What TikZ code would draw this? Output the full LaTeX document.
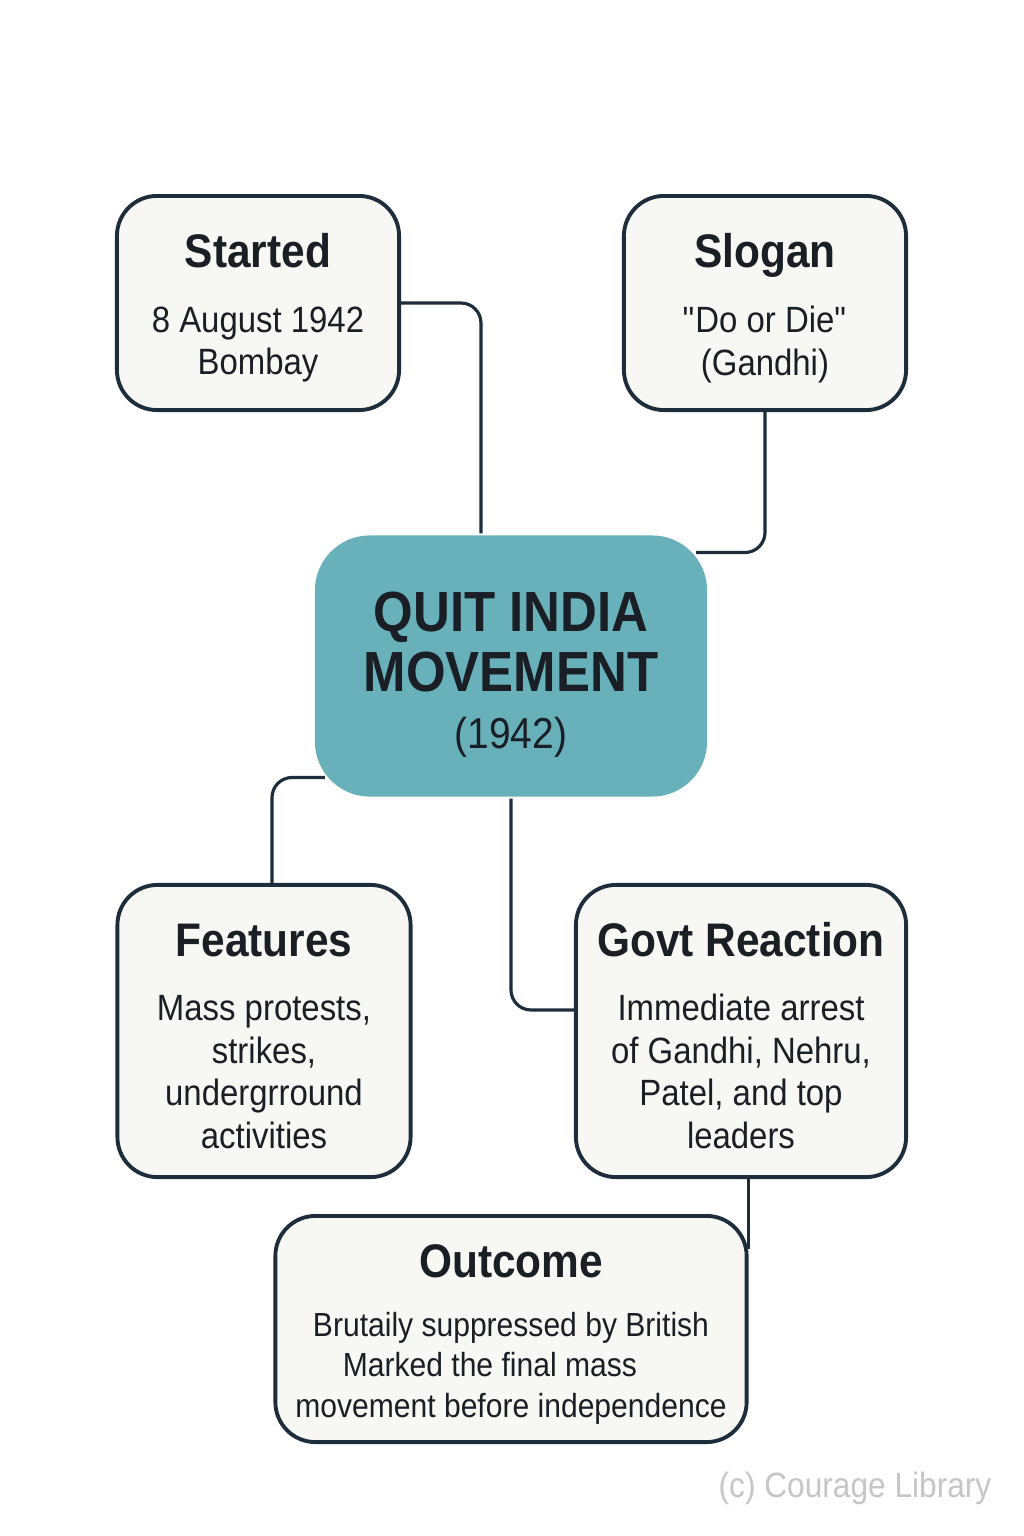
\documentclass[tikz,border=0pt]{standalone}
\usepackage{fontspec}
\setmainfont{Liberation Sans}[FakeStretch=0.9]
\usetikzlibrary{positioning}
\definecolor{navy}{HTML}{1E2D3B}
\definecolor{paper}{HTML}{F7F7F3}
\definecolor{tealbox}{HTML}{68B0BA}
\definecolor{inkc}{HTML}{1A1F26}
\newcommand\boxtitle{\fontsize{13.4}{16}\selectfont\bfseries\rule{0pt}{12.4pt}}
\begin{document}
\begin{tikzpicture}[x=0.01cm,y=-0.01cm,
  box/.style={draw=navy,line width=1.1pt,fill=paper,rounded corners=0.4cm,align=center,inner sep=0pt,text=inkc,font=\fontsize{10.4}{12.1}\selectfont},
  link/.style={draw=navy,line width=0.9pt,rounded corners=0.2cm}]
\useasboundingbox (0,0) rectangle (1024,1536);
\fill[white] (0,0) rectangle (1024,1536);
\node[box,minimum width=2.82cm,minimum height=2.14cm] (started) at (258,303) {{\boxtitle Started}\\[6.5pt]8 August 1942\\Bombay};
\node[box,minimum width=2.82cm,minimum height=2.14cm] (slogan) at (765,303) {{\boxtitle Slogan}\\[6.5pt]\textquotedbl Do or Die\textquotedbl\\(Gandhi)};
\node[box,draw=none,fill=tealbox,rounded corners=0.55cm,minimum width=3.92cm,minimum height=2.61cm,font=\fontsize{16.1}{16.8}\selectfont\bfseries] (central) at (511,666) {\rule{0pt}{16.3pt}QUIT INDIA\\MOVEMENT\\[-0.5pt]{\mdseries\fontsize{12.3}{14}\selectfont (1942)}};
\node[box,minimum width=2.93cm,minimum height=2.92cm] (features) at (264,1031) {{\boxtitle Features}\\[6pt]Mass protests,\\strikes,\\undergrround\\activities};
\node[box,minimum width=3.30cm,minimum height=2.92cm] (govt) at (741,1031) {{\boxtitle Govt Reaction}\\[6pt]Immediate arrest\\of Gandhi, Nehru,\\Patel, and top\\leaders};
\node[box,minimum width=4.71cm,minimum height=2.26cm,font=\fontsize{9.5}{11.5}\selectfont] (outcome) at (511,1329) {{\boxtitle Outcome}\\[5.3pt]Brutaily suppressed by British\\Marked the final mass\hspace*{12pt}\mbox{}\\movement before independence};
\node[text=gray!45,font=\fontsize{10}{12}\selectfont] (mark) at (855,1488) {(c) Courage Library};
\draw[link] (started.east) -| ([xshift=-0.3cm]central.north);
\draw[link] (slogan.south) |- ([shift={(-0.13cm,-0.19cm)}]central.north east);
\draw[link] ([shift={(0.12cm,0.21cm)}]central.south west) -| ([xshift=0.08cm]features.north);
\draw[link] (central.south) |- ([yshift=0.21cm]govt.west);
\draw[link] (govt.south -| outcome.east) -- ([yshift=-0.35cm]outcome.north east);
\end{tikzpicture}
\end{document}
